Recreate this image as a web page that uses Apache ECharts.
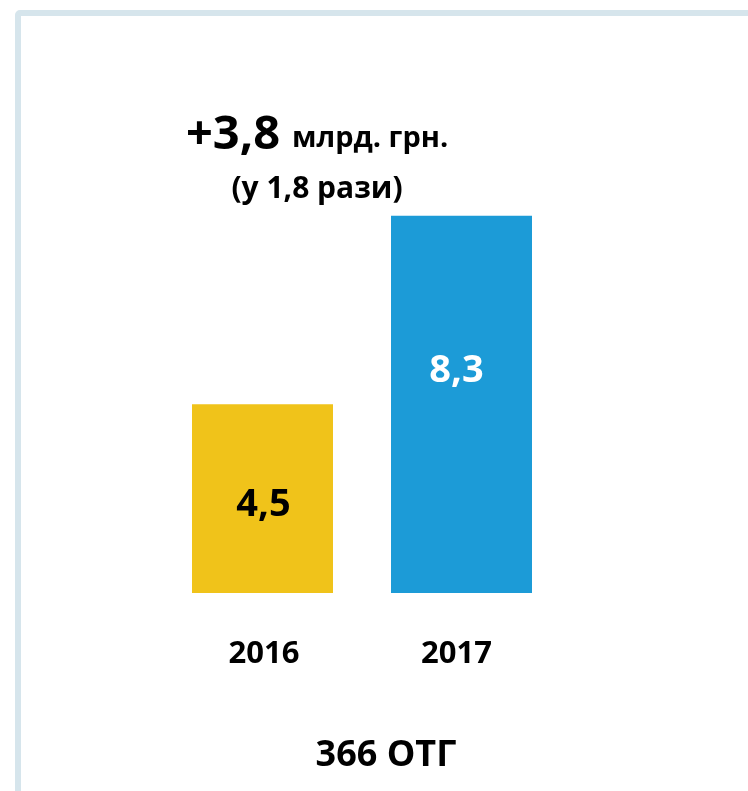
<!DOCTYPE html>
<html>
<head>
<meta charset="utf-8">
<script src="https://cdn.jsdelivr.net/npm/echarts@6/dist/echarts.min.js"></script>
<style>
  html, body { margin: 0; padding: 0; background: #fff; }
  #chart { width: 748px; height: 791px; }
</style>
</head>
<body>
<div id="chart"></div>
<script>
// дані
var years = ['2016', '2017'];
var values = [4.5, 8.3];
var barColors = ['#f0c31a', '#1c9bd7'];
var labelColors = ['#000', '#fff'];
var headline = '+3,8';
var unit = 'млрд. грн.';
var ratio = '(у 1,8 рази)';
var footer = '366 ОТГ';

var font = '"Open Sans", "Noto Sans", sans-serif';

var chart = echarts.init(document.getElementById('chart'));

var option = {
    backgroundColor: '#fff',
    animation: false,
    grid: { left: 163, width: 398, top: 181, bottom: 198 },
    xAxis: {
        type: 'category',
        data: years.map(function (y, i) {
            return i === 1
                ? { value: y, textStyle: { padding: [0, 10, 4, 0] } }
                : { value: y, textStyle: { padding: [0, 0, 0, 3] } };
        }),
        axisLine: { show: false },
        axisTick: { show: false },
        axisLabel: {
            margin: 46,
            color: '#000',
            fontFamily: font,
            fontWeight: 'bold',
            fontSize: 31
        }
    },
    yAxis: {
        type: 'value',
        min: 0.7,
        max: 9,
        show: false,
        splitLine: { show: false }
    },
    series: [{
        type: 'bar',
        barWidth: 141,
        data: values.map(function (v, i) {
            return {
                value: v,
                itemStyle: { color: barColors[i] },
                label: {
                    color: labelColors[i],
                    offset: i === 0 ? [1, 6] : [-5, -33]
                }
            };
        }),
        label: {
            show: true,
            position: 'inside',
            fontFamily: font,
            fontWeight: 'bold',
            fontSize: 38,
            formatter: function (p) {
                return String(p.value).replace('.', ',');
            }
        }
    }],
    graphic: [
        {
            type: 'rect',
            silent: true,
            shape: { x: 18, y: 13, width: 800, height: 900, r: 2 },
            style: { fill: 'none', stroke: '#d6e5ec', lineWidth: 6 }
        },
        {
            type: 'text', left: 186, top: 112,
            style: { text: headline, fill: '#000', font: 'bold 47px ' + font }
        },
        {
            type: 'text', left: 292, top: 124,
            style: { text: unit, fill: '#000', font: 'bold 29px ' + font }
        },
        {
            type: 'text', x: 317, y: 189,
            style: { text: ratio, fill: '#000', font: 'bold 30px ' + font, textAlign: 'center', textVerticalAlign: 'middle' }
        },
        {
            type: 'text', x: 386, y: 756,
            style: { text: footer, fill: '#000', font: 'bold 36px ' + font, textAlign: 'center', textVerticalAlign: 'middle' }
        }
    ]
};

chart.setOption(option);
</script>
</body>
</html>
